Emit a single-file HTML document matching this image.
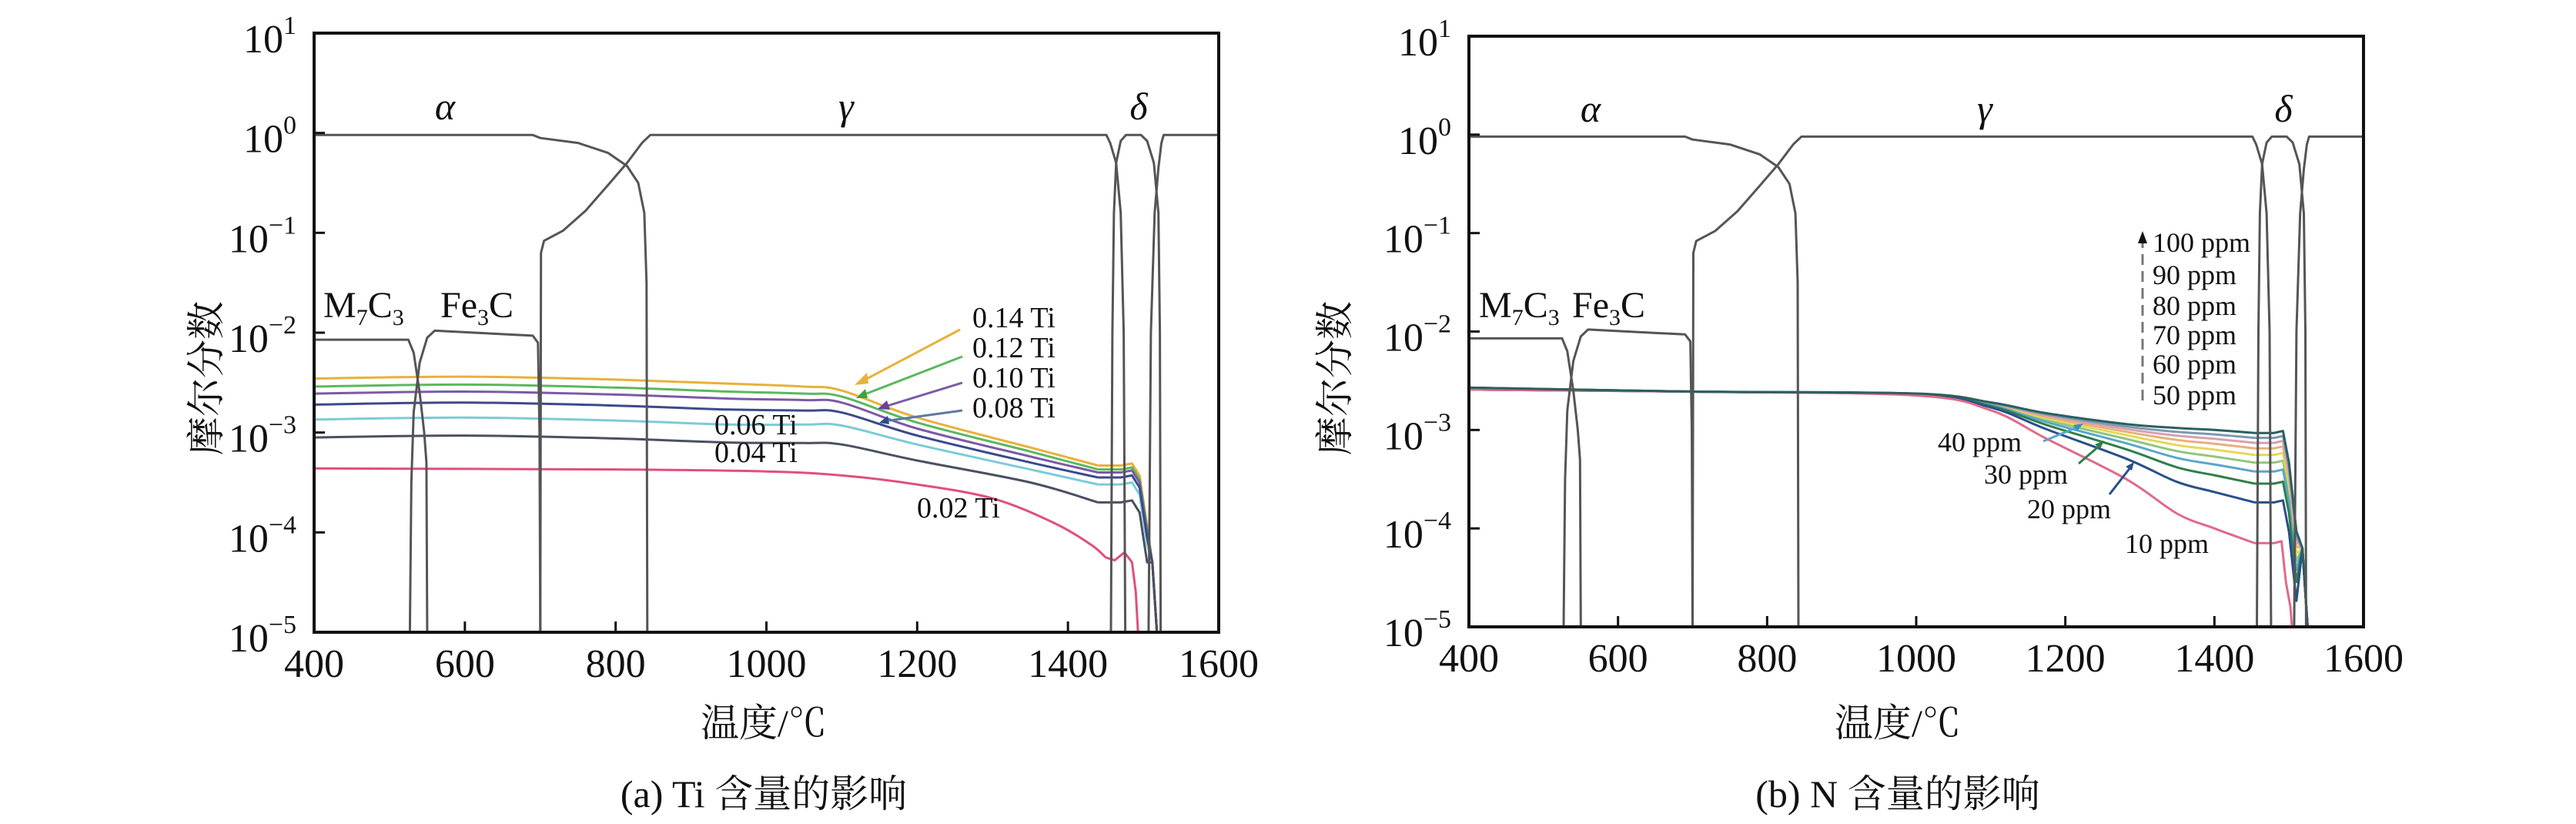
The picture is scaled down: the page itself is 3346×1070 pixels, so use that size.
<!DOCTYPE html>
<html><head><meta charset="utf-8">
<style>
html,body{margin:0;padding:0;background:#fff;}
svg{display:block;}
text{font-family:"Liberation Serif","Noto Serif CJK SC","Noto Sans CJK SC",serif;fill:#111;}
</style></head>
<body>
<svg id="s" xmlns="http://www.w3.org/2000/svg" width="3346" height="1070" viewBox="0 0 3346 1070">
<defs>
<clipPath id="ca"><rect x="408" y="43" width="1175" height="778"/></clipPath>
<clipPath id="cb"><rect x="1908" y="47" width="1162" height="767"/></clipPath>
</defs>
<rect width="3346" height="1070" fill="#fff"/>
<g id="ga" clip-path="url(#ca)"></g>
<g id="gb" clip-path="url(#cb)"></g>
<rect x="408" y="43" width="1175" height="778" fill="none" stroke="#111" stroke-width="4"/>
<rect x="1908" y="47" width="1162" height="767" fill="none" stroke="#111" stroke-width="4"/>
<g id="ticks"></g>

<g font-size="50" font-style="italic">
<text x="578" y="155" text-anchor="middle">α</text>
<text x="1099" y="155" text-anchor="middle">γ</text>
<text x="1479" y="155" text-anchor="middle">δ</text>
<text x="2066" y="158" text-anchor="middle">α</text>
<text x="2578" y="158" text-anchor="middle">γ</text>
<text x="2966" y="158" text-anchor="middle">δ</text>
</g>
<g font-size="48">
<text x="420" y="412">M<tspan font-size="30" dy="10">7</tspan><tspan dy="-10">C</tspan><tspan font-size="30" dy="10">3</tspan></text>
<text x="572" y="412">Fe<tspan font-size="30" dy="10">3</tspan><tspan dy="-10">C</tspan></text>
<text x="1921" y="412">M<tspan font-size="30" dy="10">7</tspan><tspan dy="-10">C</tspan><tspan font-size="30" dy="10">3</tspan></text>
<text x="2042" y="412">Fe<tspan font-size="30" dy="10">3</tspan><tspan dy="-10">C</tspan></text>
</g>
<g font-size="38">
<text x="1263" y="425">0.14 Ti</text>
<text x="1263" y="464">0.12 Ti</text>
<text x="1263" y="503">0.10 Ti</text>
<text x="1263" y="542">0.08 Ti</text>
<text x="928" y="564">0.06 Ti</text>
<text x="928" y="600">0.04 Ti</text>
<text x="1191" y="672">0.02 Ti</text>
</g>
<g stroke-width="3" fill="none">
<line x1="1247" y1="428" x2="1118" y2="496" stroke="#e8b13a"/>
<line x1="1250" y1="463" x2="1118" y2="514" stroke="#5cb85c"/>
<line x1="1250" y1="497" x2="1146" y2="529" stroke="#7b5aa6"/>
<line x1="1250" y1="533" x2="1148" y2="547" stroke="#5b7aa0"/>
</g>
<polygon points="1110,500 1126,484 1128,498" fill="#e8b13a"/>
<polygon points="1112,517 1124,505 1127,517" fill="#3da33d"/>
<polygon points="1140,531 1152,520 1156,532" fill="#6a3fa0"/>
<polygon points="1142,549 1153,540 1155,551" fill="#2c4a90"/>

<g font-size="36">
<text x="2796" y="327">100 ppm</text>
<text x="2796" y="369">90 ppm</text>
<text x="2796" y="409">80 ppm</text>
<text x="2796" y="447">70 ppm</text>
<text x="2796" y="485">60 ppm</text>
<text x="2796" y="525">50 ppm</text>
<text x="2517" y="586">40 ppm</text>
<text x="2577" y="628">30 ppm</text>
<text x="2633" y="673">20 ppm</text>
<text x="2760" y="718">10 ppm</text>
</g>
<line x1="2783" y1="520" x2="2783" y2="312" stroke="#777" stroke-width="3" stroke-dasharray="14,8"/>
<polygon points="2777,316 2783,300 2789,316" fill="#111"/>
<g stroke-width="3">
<line x1="2654" y1="573" x2="2700" y2="554" stroke="#5aa7c9"/>
<line x1="2700" y1="602" x2="2728" y2="578" stroke="#2f7f4a"/>
<line x1="2740" y1="642" x2="2768" y2="606" stroke="#2a4f8a"/>
</g>
<polygon points="2706,550 2693,552 2698,560" fill="#3a8fc0"/>
<polygon points="2733,572 2721,577 2728,583" fill="#2f7f4a"/>
<polygon points="2772,600 2761,606 2769,611" fill="#2a4f8a"/>

<g font-size="50">
<text x="992" y="956" text-anchor="middle">温度/℃</text>
<text x="2465" y="956" text-anchor="middle">温度/℃</text>
<text x="992" y="1048" text-anchor="middle">(a) Ti 含量的影响</text>
<text x="2465" y="1048" text-anchor="middle">(b) N 含量的影响</text>
<text transform="translate(285,491) rotate(-90)" text-anchor="middle">摩尔分数</text>
<text transform="translate(1751,491) rotate(-90)" text-anchor="middle">摩尔分数</text>
</g>
<g id="lbl" font-size="52"></g>
</svg>
<script>
var NS="http://www.w3.org/2000/svg";
var A={x0:408,x1:1583,y0:43,y1:821},B={x0:1908,x1:3070,y0:47,y1:814};
function P(ax,T,L){return [ax.x0+(T-400)/1200*(ax.x1-ax.x0), ax.y0+(1-L)/6*(ax.y1-ax.y0)];}
function path(g,ax,pts,col,w,smooth){
  var q=pts.map(function(p){return P(ax,p[0],p[1]);});
  var d="M"+q[0][0].toFixed(1)+" "+q[0][1].toFixed(1);
  for(var i=1;i<q.length;i++){
    if(smooth){
      var p0=q[Math.max(0,i-2)],p1=q[i-1],p2=q[i],p3=q[Math.min(q.length-1,i+1)];
      var c1=[p1[0]+(p2[0]-p0[0])/6,p1[1]+(p2[1]-p0[1])/6],c2=[p2[0]-(p3[0]-p1[0])/6,p2[1]-(p3[1]-p1[1])/6];
      d+="C"+c1[0].toFixed(1)+" "+c1[1].toFixed(1)+" "+c2[0].toFixed(1)+" "+c2[1].toFixed(1)+" "+p2[0].toFixed(1)+" "+p2[1].toFixed(1);
    } else d+="L"+q[i][0].toFixed(1)+" "+q[i][1].toFixed(1);
  }
  var e=document.createElementNS(NS,"path");e.setAttribute("d",d);e.setAttribute("fill","none");
  e.setAttribute("stroke",col);e.setAttribute("stroke-width",w||3);e.setAttribute("stroke-linejoin","round");
  document.getElementById(g).appendChild(e);
}
function el(tag,attrs,parent,txt){var e=document.createElementNS(NS,tag);for(var k in attrs)e.setAttribute(k,attrs[k]);if(txt)e.textContent=txt;parent.appendChild(e);return e;}
var phases=[
 [[400,-0.02],[690,-0.02],[700,-0.05],[750,-0.1],[790,-0.2],[815,-0.33],[830,-0.5],[838,-0.8],[841,-1.5],[842,-5]],
 [[700,-5],[701,-1.2],[705,-1.08],[730,-0.98],[760,-0.78],[790,-0.52],[815,-0.3],[835,-0.1],[846,-0.02],[1451,-0.02],[1456,-0.1],[1464,-0.3],[1470,-0.8],[1474,-2],[1476,-5]],
 [[1457,-5],[1459,-2],[1461,-0.8],[1464,-0.3],[1470,-0.08],[1477,-0.02],[1497,-0.02],[1505,-0.08],[1514,-0.3],[1520,-0.8],[1522,-2],[1523,-5]],
 [[1507,-5],[1510,-2],[1515,-0.8],[1520,-0.35],[1524,-0.1],[1527,-0.02],[1600,-0.02]],
 [[400,-2.07],[525,-2.07],[532,-2.2],[540,-2.6],[546,-3.0],[549,-3.3],[550,-5]],
 [[527,-5],[529,-3.5],[532,-2.8],[540,-2.3],[550,-2.05],[560,-1.98],[690,-2.03],[697,-2.1],[699,-3],[700,-5]]
];
var ti=[["#7ccbd6",-2.87,-2.93,-3.12,-3.37,-3.52],["#e8b13a",-2.46,-2.58,-2.85,-3.15,-3.33],["#5cb85c",-2.54,-2.64,-2.9,-3.19,-3.37],
 ["#7b5aa6",-2.61,-2.7,-2.96,-3.24,-3.4],["#3b4a8a",-2.72,-2.8,-3.03,-3.3,-3.45],["#4a5060",-3.05,-3.12,-3.28,-3.5,-3.7]];
ti.forEach(function(t){var v=t[1],c=t[5];
 path("ga",A,[[400,v],[600,v+0.02],[800,v-0.01],[950,v-0.05],[1050,(v+t[2])/2-0.02],[1100,t[2]],[1200,t[3]],[1350,t[4]],[1440,c]],t[0],3,true);
 path("ga",A,[[1440,c],[1470,c],[1485,c+0.02],[1495,c-0.1],[1505,c-0.6],[1512,-4.3],[1518,-5]],t[0],3,false);});
path("ga",A,[[400,-3.36],[800,-3.37],[1000,-3.39],[1100,-3.43],[1200,-3.52],[1300,-3.66],[1380,-3.9],[1430,-4.12],[1450,-4.25]],"#e0507a",3,true);
path("ga",A,[[1450,-4.25],[1462,-4.28],[1475,-4.2],[1485,-4.3],[1490,-4.6],[1493,-5]],"#e0507a",3,false);
phases.forEach(function(p){path("ga",A,p,"#555",3);});
var Ts=[400,700,1000,1100,1175,1282,1350,1400,1454];
var P10=[-2.6,-2.61,-2.65,-2.8,-3.09,-3.5,-3.85,-4.0,-4.15];
var P100=[-2.6,-2.61,-2.63,-2.72,-2.83,-2.94,-2.98,-3.0,-3.03];
var ns=[[0.27,"#8fc77a"],[0.2,"#e5d85a"],[0.14,"#e8b07a"],[0.09,"#d9a0b0"],[0.045,"#7a9ab0"],[0.35,"#5aa7c9"],[0.46,"#2f7f4a"],[0.63,"#2a4f8a"],[1,"#e06a8a"],[0,"#2c5f5f"]];
ns.forEach(function(n,k){var w=n[0];var pts=[];
 for(var i=0;i<Ts.length;i++){var L=P100[i]+(P10[i]-P100[i])*w; if(i==0)L+=(k%3==0?0.03:0.01); pts.push([Ts[i],L]);}
 var c=pts[pts.length-1][1];
 path("gb",B,pts,n[1],3,true);
 var e=(w==1)?[[1454,c],[1480,c],[1490,c+0.02],[1496,c-0.4],[1502,-4.8],[1504,-5]]
   :[[1454,c],[1480,c],[1492,c+0.02],[1500,c-0.3],[1510,c-1.0],[1518,-4.2],[1525,-5]];
 path("gb",B,e,n[1],3,false);});
phases.forEach(function(p){path("gb",B,p,"#555",3);});
var tk=document.getElementById("ticks"),lb=document.getElementById("lbl");
[[A,385],[B,1885]].forEach(function(a){var ax=a[0];
 for(var e=1;e>=-5;e--){var y=P(ax,400,e)[1];
  el("line",{x1:ax.x0,y1:y,x2:ax.x0+14,y2:y,stroke:"#111","stroke-width":3},tk);
  var t=el("text",{x:a[1],y:y+25,"text-anchor":"end"},lb);
  el("tspan",{},t,"10");el("tspan",{dy:-24,"font-size":34},t,(e<0?"\u2212":"")+Math.abs(e));}
 for(var T=400;T<=1600;T+=200){var x=P(ax,T,0)[0];
  el("line",{x1:x,y1:ax.y1,x2:x,y2:ax.y1-14,stroke:"#111","stroke-width":3},tk);
  el("text",{x:x,y:ax.y1+58,"text-anchor":"middle"},lb,String(T));}
});
</script>
</body></html>
